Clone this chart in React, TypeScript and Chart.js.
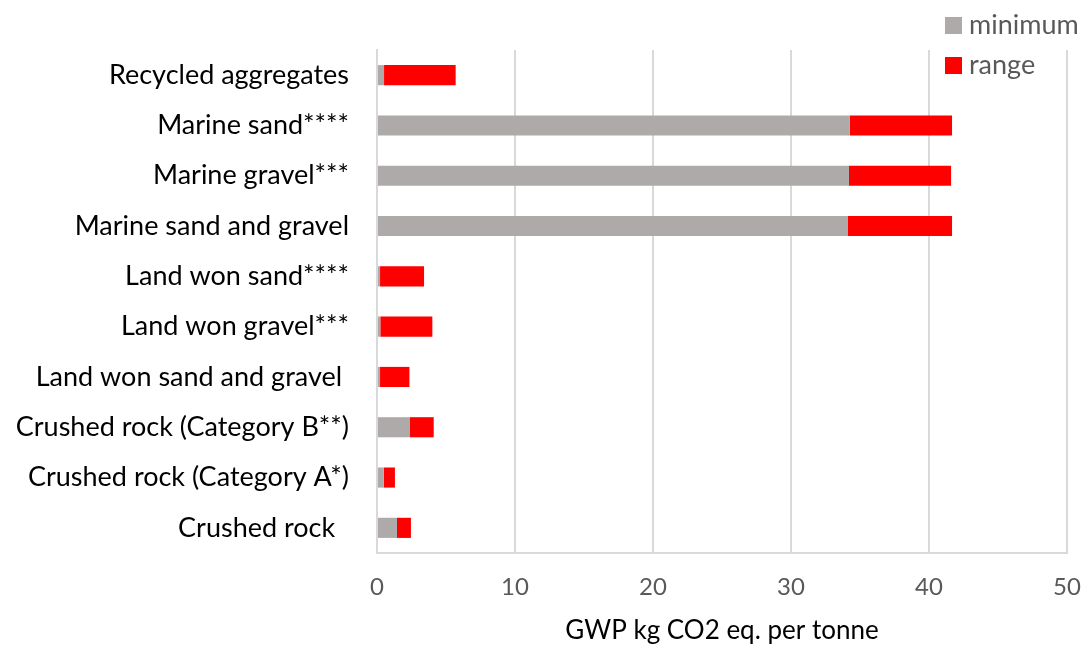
import React, { useEffect, useRef } from "react";
import { Chart, registerables } from "chart.js";

Chart.register(...registerables);

const categories = [
  "Recycled aggregates",
  "Marine sand****",
  "Marine gravel***",
  "Marine sand and gravel",
  "Land won sand****",
  "Land won gravel***",
  "Land won sand and gravel ",
  "Crushed rock (Category B**)",
  "Crushed rock (Category A*)",
  "Crushed rock  ",
];
const minimumValues = [0.51, 34.25, 34.2, 34.13, 0.22, 0.24, 0.22, 2.39, 0.49, 1.45];
const rangeValues = [5.19, 7.42, 7.4, 7.54, 3.19, 3.77, 2.13, 1.72, 0.81, 1.01];
const xTicks = [0, 10, 20, 30, 40, 50];
const seriesNames = ["minimum", "range"];
const seriesColors = ["#AEAAAA", "#FF0000"];
const axisTitle = "GWP kg CO2 eq. per tonne";

const FONT = "Lato, 'Open Sans', sans-serif";

const legendPlugin = {
  id: "customLegend",
  afterDraw(chart: any) {
    const ctx = chart.ctx;
    ctx.save();
    ctx.font = `27px ${FONT}`;
    ctx.textBaseline = "middle";
    ctx.textAlign = "left";
    const items = [
      { y: 25, name: seriesNames[0], color: seriesColors[0] },
      { y: 65, name: seriesNames[1], color: seriesColors[1] },
    ];
    items.forEach((it) => {
      ctx.fillStyle = it.color;
      ctx.fillRect(945, it.y - 8, 17, 17);
      ctx.fillStyle = "#595959";
      ctx.fillText(it.name, 969, it.y);
    });
    ctx.restore();
  },
};

export default function App() {
  const ref = useRef<HTMLCanvasElement>(null);
  useEffect(() => {
    if (!ref.current) return;
    const chart = new Chart(ref.current, {
      type: "bar",
      data: {
        labels: categories,
        datasets: [
          {
            label: seriesNames[0],
            data: minimumValues,
            backgroundColor: seriesColors[0],
            categoryPercentage: 0.8,
            barPercentage: 0.5,
          },
          {
            label: seriesNames[1],
            data: rangeValues,
            backgroundColor: seriesColors[1],
            categoryPercentage: 0.8,
            barPercentage: 0.5,
          },
        ],
      },
      options: {
        indexAxis: "y",
        animation: false,
        responsive: true,
        maintainAspectRatio: false,
        layout: { padding: { top: 50, right: 17, left: 0, bottom: 0 } },
        plugins: {
          legend: { display: false },
          tooltip: { enabled: false },
        },
        scales: {
          x: {
            stacked: true,
            min: 0,
            max: 50,
            afterBuildTicks: (s: any) => {
              s.ticks = xTicks.map((v) => ({ value: v }));
            },
            afterFit: (s: any) => {
              s.height = 93;
              s.paddingLeft = 0;
              s.paddingRight = 0;
            },
            grid: { color: "#D9D9D9", lineWidth: 2, drawTicks: false },
            border: { display: true, color: "#D9D9D9", width: 2 },
            ticks: {
              color: "#595959",
              font: { family: FONT, size: 24 },
              padding: 20,
            },
            title: {
              display: true,
              text: axisTitle,
              color: "#000000",
              font: { family: FONT, size: 26 },
              padding: { top: 0, bottom: 0 },
            },
          },
          y: {
            stacked: true,
            afterFit: (s: any) => {
              s.width = 377;
            },
            grid: { display: false, drawTicks: false },
            border: { display: true, color: "#D9D9D9", width: 2 },
            ticks: {
              color: "#000000",
              font: { family: FONT, size: 27 },
              padding: 28,
            },
          },
        },
      },
      plugins: [legendPlugin],
    });
    return () => chart.destroy();
  }, []);
  return (
    <div style={{ position: "fixed", left: 0, top: 0, width: 1084, height: 646, background: "#fff" }}>
      <canvas ref={ref} />
    </div>
  );
}
